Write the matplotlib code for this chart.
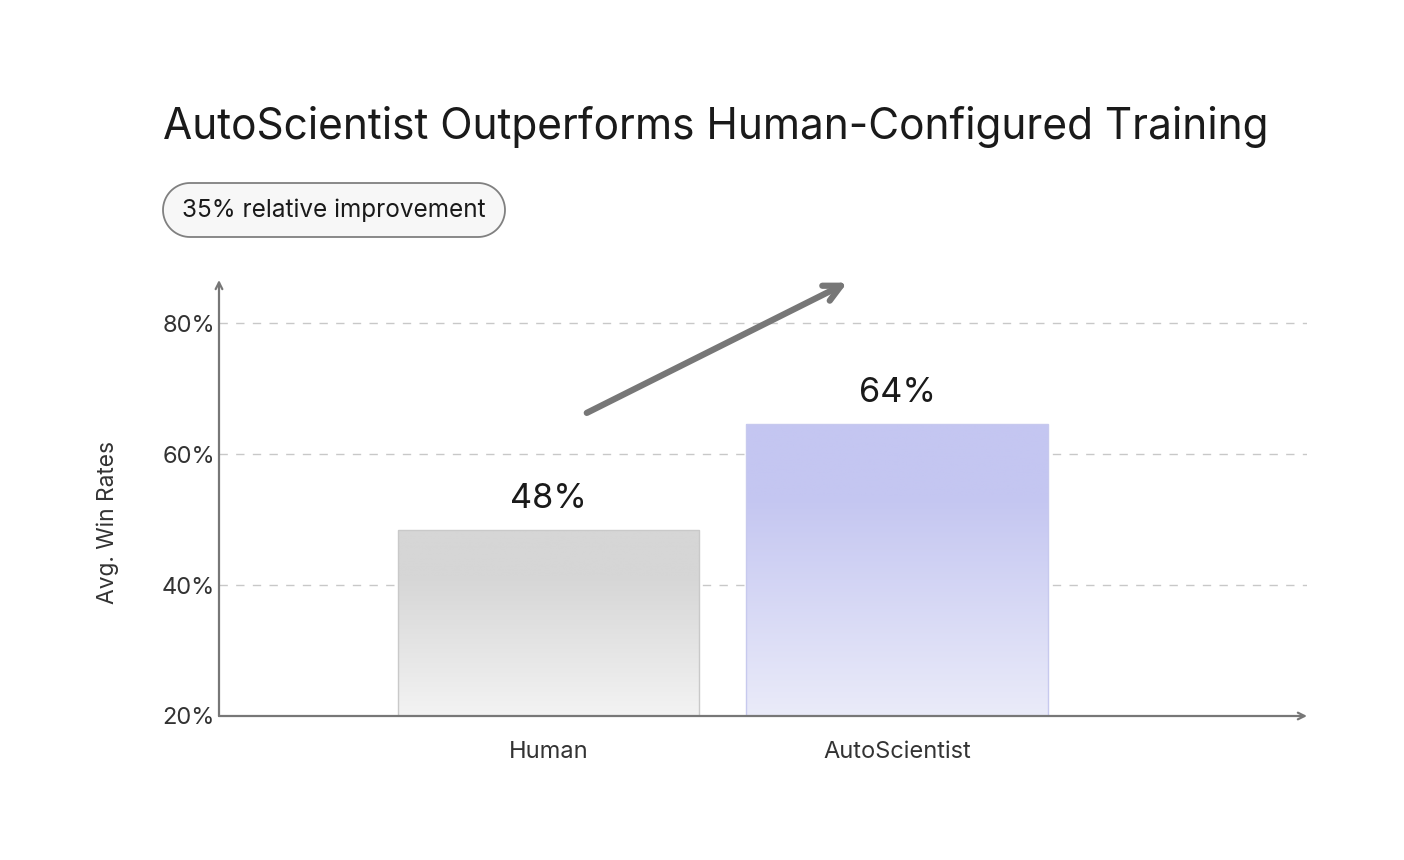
import numpy as np
import matplotlib.pyplot as plt
from matplotlib.patches import Polygon
from matplotlib.colors import LinearSegmentedColormap

plt.rcParams['font.family'] = ['Inter', 'DejaVu Sans']

# data
categories = ['Human', 'AutoScientist']
win_rates = [48.4, 64.6]
value_labels = ['48%', '64%']
y_ticks = [20, 40, 60, 80]
y_tick_labels = ['20%', '40%', '60%', '80%']

title = 'AutoScientist Outperforms Human-Configured Training'
badge = '35% relative improvement'

# gradient colours, top -> bottom
bar_grads = [('#d6d6d6', '#f3f3f3'), ('#c4c6f1', '#eaebf9')]
bar_edges = ['#c9c9c9', '#c7c9ee']

W, H = 1404, 860
fig = plt.figure(figsize=(W / 100, H / 100), dpi=100)

# overlay in pixel coords for title + badge
ov = fig.add_axes([0, 0, 1, 1])
ov.set_xlim(0, W)
ov.set_ylim(H, 0)
ov.axis('off')

ax = fig.add_axes([219 / W, 1 - 716 / H, (1307 - 219) / W, (716 - 280) / H])

x = np.arange(len(categories))
width = 0.864

# dashed grid
for t in y_ticks[1:]:
    ax.axhline(t, color='#c8c8c8', lw=1, ls=(0, (6, 6)), zorder=0)

# gradient bars
grad = np.linspace(0, 1, 256).reshape(-1, 1)
for xi, val, (c_top, c_bot), ec in zip(x, win_rates, bar_grads, bar_edges):
    cmap = LinearSegmentedColormap.from_list('g', [(0, c_top), (0.25, c_top), (1, c_bot)])
    ax.imshow(grad, cmap=cmap, aspect='auto', origin='upper',
              extent=(xi - width / 2, xi + width / 2, 20, val), zorder=1)
    ax.bar(xi, val - 20, bottom=20, width=width, facecolor='none',
           edgecolor=ec, lw=1, zorder=2)
for xi, val, lab in zip(x, win_rates, value_labels):
    ax.text(xi, val + 4.75, lab, ha='center', va='center', fontsize=24.7,
            color='#1a1a1a')

ax.set_xlim(-0.945, 2.176)
ax.set_ylim(20, 86.6)

# axes with arrowheads
for s in ax.spines.values():
    s.set_visible(False)
ax.annotate('', xy=(2.176, 20), xytext=(-0.945, 20),
            arrowprops=dict(arrowstyle='->', color='#777777', lw=1.6,
                            mutation_scale=12, shrinkA=0, shrinkB=0),
            annotation_clip=False)
ax.annotate('', xy=(-0.945, 86.6), xytext=(-0.945, 20),
            arrowprops=dict(arrowstyle='->', color='#777777', lw=1.6,
                            mutation_scale=12, shrinkA=0, shrinkB=0),
            annotation_clip=False)

ax.set_yticks(y_ticks)
ax.set_yticklabels(y_tick_labels)
ax.set_xticks(x)
ax.set_xticklabels(categories)
ax.tick_params(axis='both', length=0, labelsize=17, colors='#333333')
ax.tick_params(axis='y', pad=3)
ax.tick_params(axis='x', pad=18)

# trend arrow
ax.annotate('', xy=(0.857, 86.2), xytext=(0.11, 66.3),
            arrowprops=dict(arrowstyle='->', color='#777777', lw=4.5,
                            mutation_scale=30, shrinkA=0, shrinkB=0),
            annotation_clip=False)

# y label, title
ov.text(108, 522, 'Avg. Win Rates', fontsize=16.4, color='#333333',
        rotation=90, ha='center', va='center')
ov.text(163, 127, title, fontsize=30.5, color='#1a1a1a', ha='left', va='center')

# badge: stadium shape
r = 27
cy = 210
lx, rx = 163 + r, 505 - r
a_r = np.linspace(-np.pi / 2, np.pi / 2, 40)
a_l = np.linspace(np.pi / 2, 3 * np.pi / 2, 40)
pts = np.vstack([
    np.column_stack([rx + r * np.cos(a_r), cy + r * np.sin(a_r)]),
    np.column_stack([lx + r * np.cos(a_l), cy + r * np.sin(a_l)]),
])
ov.add_patch(Polygon(pts, closed=True, facecolor='#f7f7f7',
                     edgecolor='#808080', lw=1.3))
ov.text(334, cy, badge, fontsize=17.5, color='#1a1a1a', ha='center', va='center')

fig.savefig('out.png', dpi=100, facecolor='white')
